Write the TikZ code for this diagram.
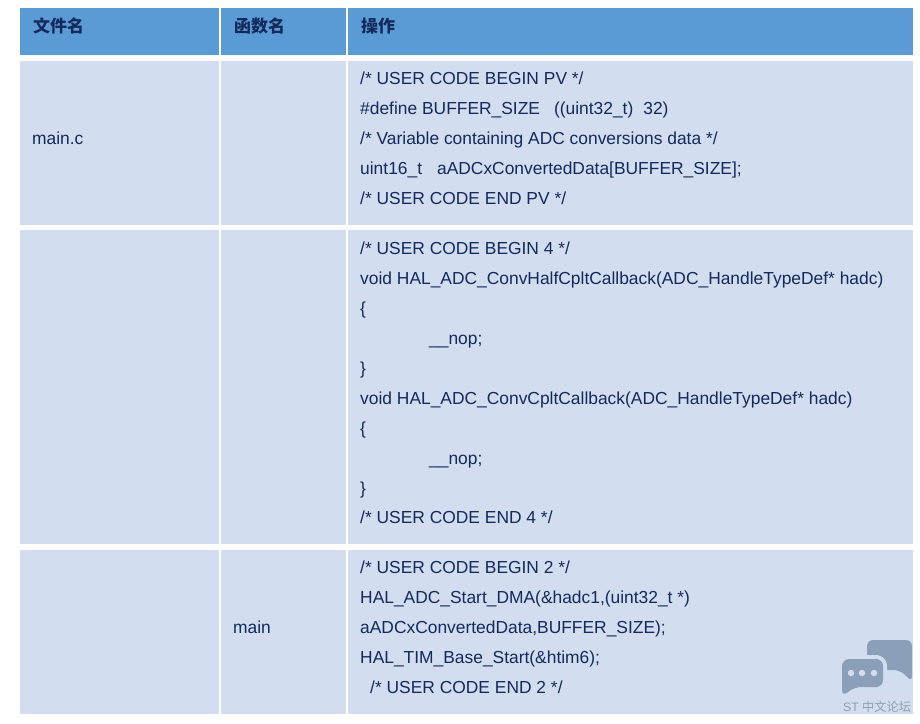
\documentclass[tikz,border=0pt]{standalone}
\usepackage{fontspec}
\setmainfont{Liberation Sans}
\newfontfamily\cjk{Noto Sans CJK SC}
\definecolor{headblue}{HTML}{5B9BD5}
\definecolor{rowblue}{HTML}{D2DEEF}
\definecolor{inknavy}{HTML}{14295C}
\definecolor{markgray}{HTML}{8B9FB8}
\tikzset{
	codeline/.style={anchor=base west,inner sep=0pt,text=inknavy,font=\fontsize{17.4}{17.4}\selectfont},
	headline/.style={anchor=base west,inner sep=0pt,text=inknavy,font=\fontsize{17}{17}\selectfont\cjk\bfseries},
	marktext/.style={anchor=base west,inner sep=0pt,text=markgray,font=\fontsize{12.2}{12.2}\selectfont}
}
\begin{document}
\begin{tikzpicture}[x=1pt,y=-1pt,line join=round,line cap=round]
		\useasboundingbox (0,0) rectangle (920,723);
		\fill[white] (0,0) rectangle (920,723);
		\foreach \l/\r in {20/219,221/346,348/913}{
			\fill[headblue] (\l,8) rectangle (\r,55);
			\fill[rowblue] (\l,61) rectangle (\r,225);
			\fill[rowblue] (\l,230) rectangle (\r,544);
			\fill[rowblue] (\l,550) rectangle (\r,714);
			}
		% header
		\foreach \n/\x/\i in {a/33/文件名,b/234/函数名,c/361/操作}{
			\node[headline] (head\n) at (\x,32) {\i};
			}
		\node[codeline] (file) at (32,144) {main.c};
		\node[codeline] (func) at (233,633) {main};
		% code lines
		\foreach \y/\x/\i in {
			84/360/{/* USER CODE BEGIN PV */},
			114/360/{\#define BUFFER\_SIZE\hspace{14pt}((uint32\_t)\hspace{10pt}32)},
			144/360/{/* Variable containing ADC conversions data */},
			174/360/{uint16\_t\hspace{15pt}aADCxConvertedData[BUFFER\_SIZE];},
			204/360/{/* USER CODE END PV */},
			254/360/{/* USER CODE BEGIN 4 */},
			284/360/{void HAL\_ADC\_ConvHalfCpltCallback(ADC\_HandleTypeDef* hadc)},
			314/360/{\{},
			344/429/{\_\_nop;},
			374/360/{\}},
			404/360/{void HAL\_ADC\_ConvCpltCallback(ADC\_HandleTypeDef* hadc)},
			434/360/{\{},
			464/429/{\_\_nop;},
			494/360/{\}},
			523/360/{/* USER CODE END 4 */},
			573/360/{/* USER CODE BEGIN 2 */},
			603/360/{HAL\_ADC\_Start\_DMA(\&hadc1,(uint32\_t *)},
			633/360/{aADCxConvertedData,BUFFER\_SIZE);},
			663/360/{HAL\_TIM\_Base\_Start(\&htim6);},
			693/370/{/* USER CODE END 2 */}}{
			\node[codeline] (line\y) at (\x,\y) {\i};
			}
		% watermark
		\fill[markgray,rounded corners=6pt] (867,640)--(912,640)--(912,682)--(900,670)--(867,670)--cycle;
		\fill[markgray,preaction={draw=rowblue,line width=8pt},rounded corners=7pt] (842,659)--(883,659)--(883,687)--(854,687)--(842,697)--cycle;
		\foreach \x in {851,862,874}{
			\fill[rowblue] (\x,673) circle (3.2pt);
			}
		\node[marktext] (mark) at (843,711) {ST \cjk 中文论坛};
		\end{tikzpicture}
\end{document}
